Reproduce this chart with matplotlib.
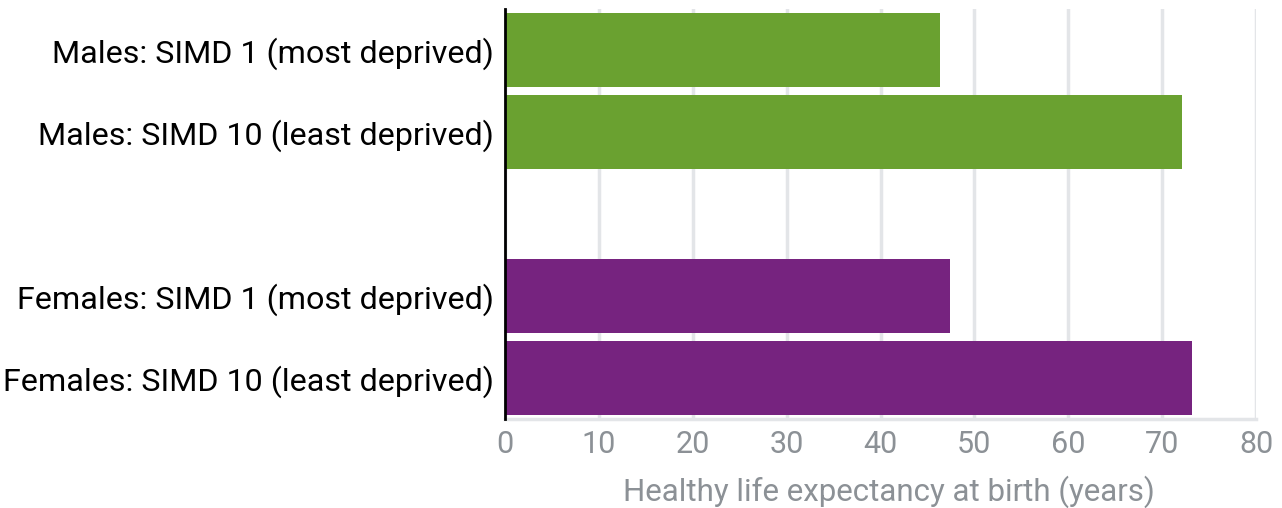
import matplotlib
matplotlib.use('Agg')
import matplotlib.pyplot as plt

# data
labels = ['Males: SIMD 1 (most deprived)', 'Males: SIMD 10 (least deprived)', '',
          'Females: SIMD 1 (most deprived)', 'Females: SIMD 10 (least deprived)']
values = [46.3, 72.1, None, 47.4, 73.2]
colours = ['#6aa130', '#6aa130', None, '#76237f', '#76237f']
xticks = [0, 10, 20, 30, 40, 50, 60, 70, 80]

plt.rcParams['font.family'] = ['Roboto', 'DejaVu Sans']

fig = plt.figure(figsize=(12.82, 5.08), dpi=100)
ax = fig.add_axes([505/1282, 1-419/508, (1256-505)/1282, 410/508])

for i, (v, c) in enumerate(zip(values, colours)):
    if v is None:
        continue
    ax.barh(i, v, height=0.9, color=c, zorder=3)

ax.set_ylim(4.5, -0.5)
ax.set_xlim(0, 80)
ax.set_yticks(range(len(labels)))
ax.set_yticklabels(labels, fontsize=23.2, color='black')
ax.set_xticks(xticks)
ax.set_xticklabels([str(t) for t in xticks], fontsize=22, color='#8c9196')
ax.tick_params(axis='both', length=0)
ax.tick_params(axis='y', pad=8)
ax.tick_params(axis='x', pad=8)

ax.xaxis.grid(True, color='#e3e5e8', linewidth=2.5, zorder=0)
ax.set_axisbelow(True)
for s in ['top', 'right']:
    ax.spines[s].set_visible(False)
ax.spines['bottom'].set_color('#e3e5e8')
ax.spines['bottom'].set_linewidth(2.5)
ax.spines['left'].set_color('black')
ax.spines['left'].set_linewidth(2)
ax.spines['left'].set_zorder(5)

ax.set_xlabel('Healthy life expectancy at birth (years)', fontsize=22.5,
              color='#8c9196', labelpad=12)
ax.xaxis.label.set_x(0.511)

fig.savefig('out.png', dpi=100)
